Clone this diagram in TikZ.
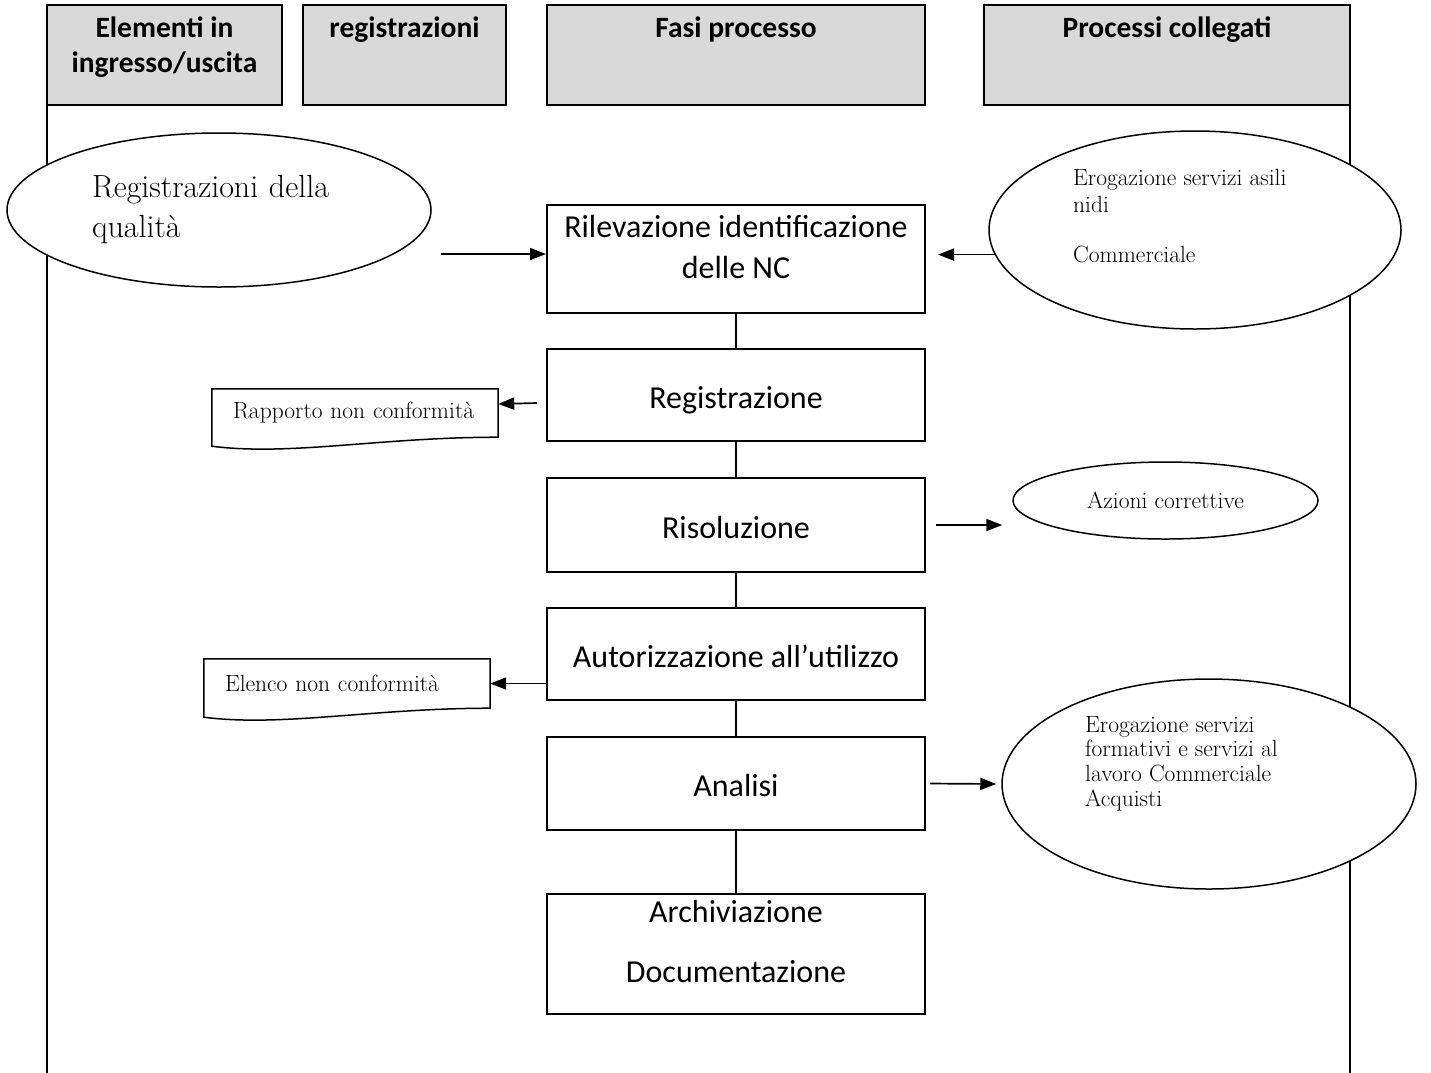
\documentclass[tikz,border=0pt]{standalone}
\usepackage{fontspec}
\newfontfamily\calibri{Carlito}
\usetikzlibrary{arrows.meta,shapes.geometric}
\definecolor{hdrgray}{HTML}{D9D9D9}
% document shape: straight top and sides, wavy bottom
\newcommand{\docoutline}[1]{%
  \draw[docline] (#1.north west) -- (#1.north east) -- (#1.south east)
    .. controls ([xshift=-118pt]#1.south east) and ([xshift=78pt,yshift=-19pt]#1.south west)
    .. ([yshift=-9pt]#1.south west) -- cycle;}
% text of a step box, set from the top
\newcommand{\steptext}[2]{\parbox[c][#1][t]{370pt}{\centering\strut #2}}

\begin{document}
\begin{tikzpicture}[x=1pt,y=-1pt,
  hdr/.style={draw,line width=2pt,fill=hdrgray,minimum height=100pt,inner sep=0pt},
  hdrtxt/.style={font=\calibri\bfseries\fontsize{29.5}{35}\selectfont,align=center,inner sep=0pt,anchor=north},
  fase/.style={draw,line width=2pt,minimum width=378pt,inner sep=0pt,align=center,
    font=\calibri\fontsize{32}{41}\selectfont},
  faseline/.style={fase,text height=26pt,text depth=0pt},
  oval/.style={ellipse,draw,line width=1.5pt,fill=white,inner sep=0pt},
  serif/.style={font=\fontsize{23.5}{27}\selectfont},
  doc/.style={text width=244pt,inner xsep=21pt,inner ysep=0pt,align=left,font=\fontsize{23.5}{27}\selectfont},
  docline/.style={line width=1.5pt},
  arr/.style={line width=1.7pt,-{Triangle[length=16pt,width=12pt]}},
  conn/.style={line width=2pt},
  sideline/.style={line width=2pt}]
\useasboundingbox (0,0) rectangle (1431,1072);

% column frame
\draw[sideline] (47,105) -- (47,1073);
\draw[sideline] (1350,105) -- (1350,1073);

% headers
\node[hdr,minimum width=235pt] (hElem) at (164.5,55) {};
\node[hdr,minimum width=203pt] (hReg) at (404.5,55) {};
\node[hdr,minimum width=378pt] (hFasi) at (736,55) {};
\node[hdr,minimum width=366pt] (hProc) at (1167,55) {};
\node[hdrtxt] (tElem) at ([yshift=-9pt]hElem.north) {\strut Elementi in\\ingresso/uscita};
\node[hdrtxt] (tReg) at ([yshift=-9pt]hReg.north) {\strut registrazioni};
\node[hdrtxt] (tFasi) at ([yshift=-9pt]hFasi.north) {\strut Fasi processo};
\node[hdrtxt] (tProc) at ([yshift=-9pt]hProc.north) {\strut Processi collegati};

% process steps
\node[fase,minimum height=108pt] (rilev) at (736,259)
  {\steptext{101pt}{Rilevazione identificazione\\delle NC}};
\node[faseline,minimum height=92pt] (regis) at (736,395) {Registrazione};
\node[faseline,minimum height=94pt] (risol) at (736,525) {Risoluzione};
\node[faseline,minimum height=92pt] (autor) at (736,654) {Autorizzazione all’utilizzo};
\node[faseline,minimum height=93pt] (analisi) at (736,783.5) {Analisi};
\node[fase,minimum height=120pt] (archiv) at (736,954)
  {\steptext{120pt}{Archiviazione\\[19pt]Documentazione}};
\foreach \a/\b in {rilev/regis,regis/risol,risol/autor,autor/analisi,analisi/archiv}
  \draw[conn] (\a) -- (\b);

% inputs / outputs
\node[oval,minimum width=424pt,minimum height=154pt,text width=254pt,align=left,
  font=\fontsize{32}{40}\selectfont] (qual) at (219,210) {Registrazioni della\\qualità};
\node[doc,minimum height=48pt] (rapporto) at (355,413) {Rapporto non conformità};
\node[doc,minimum height=49pt] (elenco) at (347,683.5) {Elenco non conformità};
\docoutline{rapporto}
\docoutline{elenco}

% linked processes
\node[oval,minimum width=412pt,minimum height=198pt] (erogA) at (1195,230) {};
\node[serif,align=left,anchor=north west,inner sep=0pt] (erogAtxt) at (1073,166)
  {\strut Erogazione servizi asili\\nidi\\[23pt]Commerciale};
\node[oval,serif,minimum width=305pt,minimum height=77pt] (azioni) at (1165.5,500.5) {Azioni correttive};
\node[oval,minimum width=414pt,minimum height=210pt] (erogB) at (1209,784) {};
\node[font=\fontsize{23.5}{24.7}\selectfont,align=left,anchor=north west,inner sep=0pt] (erogBtxt)
  at (1085,714.7) {\strut Erogazione servizi\\formativi e servizi al\\lavoro Commerciale\\Acquisti};

% arrows
\draw[arr] ([xshift=9pt,yshift=-44pt]qual.east) -- ([yshift=-44pt]qual.east -| rilev.west);
\draw[arr] (erogA.187) -- ([xshift=12pt]rilev.east |- erogA.187);
\draw[arr] ([xshift=-9pt,yshift=-8pt]regis.west) -- ([yshift=9pt]rapporto.east);
\draw[arr] ([xshift=10pt]risol.east) -- ([xshift=-10pt]risol.east -| azioni.west);
\draw[arr] (autor.west |- elenco.east) -- (elenco.east);
\draw[arr] ([xshift=4pt]analisi.east) -- ([xshift=-5pt]erogB.west);
\end{tikzpicture}
\end{document}
